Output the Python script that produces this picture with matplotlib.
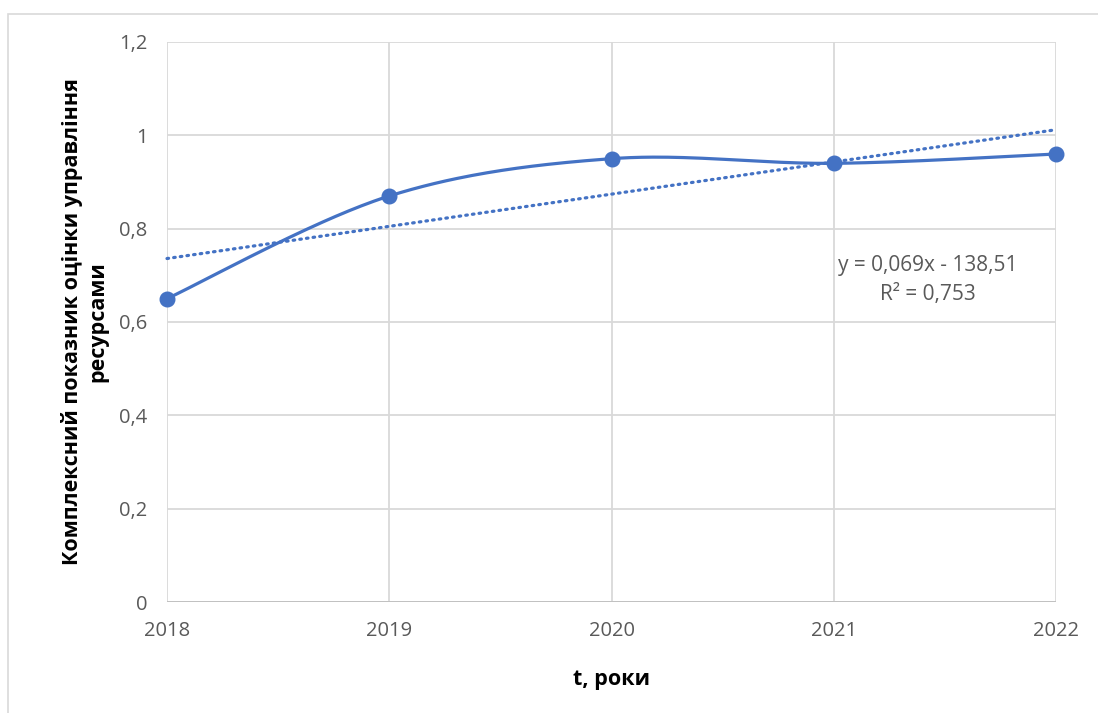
import numpy as np
import matplotlib.pyplot as plt
from matplotlib.patches import Rectangle

years = [2018, 2019, 2020, 2021, 2022]
values = [0.65, 0.87, 0.95, 0.94, 0.96]
y_ticks = [0, 0.2, 0.4, 0.6, 0.8, 1.0, 1.2]
y_tick_labels = ["0", "0,2", "0,4", "0,6", "0,8", "1", "1,2"]

blue = "#4472C4"
grey_text = "#595959"
grid_col = "#D9D9D9"

plt.rcParams['font.family'] = ['Open Sans', 'DejaVu Sans']


def smooth(xs, ys, n=60):
    # cubic bezier segments like a spreadsheet "smoothed line"
    x = np.asarray(xs, float)
    y = np.asarray(ys, float)
    px, py = [], []
    k = len(x)
    for i in range(k - 1):
        i0 = max(i - 1, 0)
        i3 = min(i + 2, k - 1)
        p0 = np.array([x[i], y[i]])
        p3 = np.array([x[i + 1], y[i + 1]])
        c1 = p0 + (np.array([x[i + 1], y[i + 1]]) - np.array([x[i0], y[i0]])) / 6
        c2 = p3 - (np.array([x[i3], y[i3]]) - np.array([x[i], y[i]])) / 6
        t = np.linspace(0, 1, n)[:, None]
        pts = ((1 - t) ** 3) * p0 + 3 * ((1 - t) ** 2) * t * c1 + 3 * (1 - t) * t ** 2 * c2 + t ** 3 * p3
        px.extend(pts[:, 0])
        py.extend(pts[:, 1])
    return np.array(px), np.array(py)


fig = plt.figure(figsize=(10.98, 7.13), dpi=100)
ax = fig.add_axes([167 / 1098, 1 - 602 / 713, (1056 - 167) / 1098, (602 - 42) / 713])

# outer chart border
fig.patches.append(Rectangle((8 / 1098, -0.1), 1.2, 1 - 14 / 713 + 0.1, transform=fig.transFigure,
                             fill=False, edgecolor=grid_col, linewidth=1.2))

xs, ys = smooth(years, values)
ax.plot(xs, ys, color=blue, linewidth=2.3, solid_capstyle='round', zorder=3, clip_on=False)
ax.plot(years, values, 'o', color=blue, markersize=10.5, zorder=4, clip_on=False)

slope, intercept = np.polyfit(years, values, 1)
trend = slope * np.array(years) + intercept
ax.plot(years, trend, color=blue, linewidth=2.3, linestyle=(0, (0.5, 1.6)),
        dash_capstyle='round', zorder=2, clip_on=False)

ax.set_xlim(2018, 2022)
ax.set_ylim(0, 1.2)
ax.set_xticks(years)
ax.set_xticklabels([str(y) for y in years])
ax.set_yticks(y_ticks)
ax.set_yticklabels(y_tick_labels)
ax.tick_params(length=0, labelsize=14.5, colors=grey_text)
ax.tick_params(axis='x', pad=14)
ax.tick_params(axis='y', pad=14)
ax.grid(True, color=grid_col, linewidth=1.3)
ax.set_axisbelow(True)
for s in ax.spines.values():
    s.set_visible(False)
ax.axhline(0, color="#BFBFBF", linewidth=1.3, zorder=1)

ax.text(0.856, 0.575, "y = 0,069x - 138,51\nR² = 0,753", transform=ax.transAxes,
        ha='center', va='center', fontsize=15, color=grey_text, linespacing=1.45)

ax.set_xlabel("t, роки", fontsize=15.5, fontweight='bold', color='black', labelpad=20)
ax.set_ylabel("Комплексний показник оцінки управління\nресурсами", fontsize=15.5,
              fontweight='bold', color='black', labelpad=8, linespacing=1.25)

fig.savefig("out.png", dpi=100, facecolor='white')
